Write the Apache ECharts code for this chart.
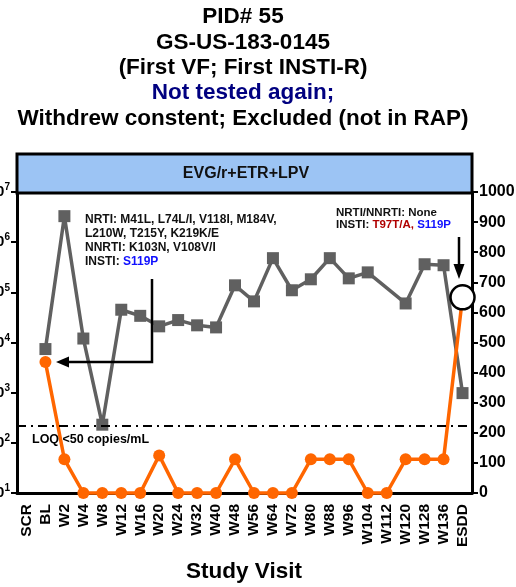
<!DOCTYPE html>
<html>
<head>
<meta charset="utf-8">
<script src="https://cdn.jsdelivr.net/npm/echarts@6/dist/echarts.min.js"></script>
<style>
html,body{margin:0;padding:0;background:#fff;}
#chart{width:516px;height:587px;}
</style>
</head>
<body>
<div id="chart"></div>
<script>
// ---- data ----
var visits = ['SCR','BL','W2','W4','W8','W12','W16','W20','W24','W32','W40','W48','W56','W64','W72','W80','W88','W96','W104','W112','W120','W128','W136','ESDD'];
// HIV-1 RNA (copies/mL), log axis
var viralLoad = [null,7400,3300000,12000,230,45000,34000,21000,28000,22000,20000,138000,66000,480000,110000,182000,480000,190000,250000,null,60000,363000,347000,980];
// CD4 count (cells/uL), right axis
var cd4 = [null,435,112,0,0,0,0,125,0,0,0,112,0,0,0,112,112,112,0,0,112,112,112,650];
var rightTicks = [0,100,200,300,400,500,600,700,800,900,1000];
var loqValue = 220;

var FONT = "'Liberation Sans', Arial, sans-serif";

var chart = echarts.init(document.getElementById('chart'));

var cd4Data = cd4.map(function(v, i){
  if (i === cd4.length - 1) {
    return {value: v, symbolSize: 24, itemStyle: {color: '#fff', borderColor: '#000', borderWidth: 2.5}};
  }
  return v;
});

function txt(x, y, text, size, color, weight, align){
  return {type:'text', x:x, y:y, z:50, style:{text:text, fill:color||'#000', font:(weight||'bold')+' '+size+'px '+FONT, textAlign:align||'center', textVerticalAlign:'middle'}};
}

var graphics = [
  txt(243, 17, 'PID# 55', 22.5),
  txt(243, 43, 'GS-US-183-0145', 22.5),
  txt(243, 68, '(First VF; First INSTI-R)', 22.5),
  txt(243, 93, 'Not tested again;', 22.5, '#000080'),
  txt(243, 119, 'Withdrew constent; Excluded (not in RAP)', 22.5),
  {type:'rect', z:40, shape:{x:17, y:154, width:455, height:39}, style:{fill:'#9cc4f4', stroke:'#000', lineWidth:3}},
  txt(246, 174, 'EVG/r+ETR+LPV', 16, '#111', 'bold'),
  {type:'text', x:85, y:213, z:50, style:{rich:{a:{font:'bold 12px '+FONT, fill:'#111', lineHeight:14}, b:{font:'bold 12px '+FONT, fill:'#1010ff', lineHeight:14}},
    text:'{a|NRTI: M41L, L74L/I, V118I, M184V,}\n{a|L210W, T215Y, K219K/E}\n{a|NNRTI: K103N, V108V/I}\n{a|INSTI: }{b|S119P}'}},
  {type:'text', x:336, y:207, z:50, style:{rich:{a:{font:'bold 11.5px '+FONT, fill:'#111', lineHeight:12}, r:{font:'bold 11.5px '+FONT, fill:'#b00000', lineHeight:12}, b:{font:'bold 11.5px '+FONT, fill:'#1010ff', lineHeight:12}},
    text:'{a|NRTI/NNRTI: None}\n{a|INSTI: }{r|T97T/A, }{b|S119P}'}},
  txt(32, 440, 'LOQ <50 copies/mL', 12.5, '#000', 'bold', 'left'),
  // L-shaped arrow
  {type:'polyline', z:45, shape:{points:[[152,279],[152,362],[66,362]]}, style:{stroke:'#000', lineWidth:2.5, fill:null}},
  {type:'polygon', z:45, shape:{points:[[56,362],[69,356.5],[69,367.5]]}, style:{fill:'#000'}},
  // down arrow
  {type:'line', z:45, shape:{x1:459, y1:237, x2:459, y2:266}, style:{stroke:'#000', lineWidth:2.5}},
  {type:'polygon', z:45, shape:{points:[[459,279],[453.5,264],[464.5,264]]}, style:{fill:'#000'}},
  txt(244, 572, 'Study Visit', 22.5)
];

var option = {
  animation: false,
  backgroundColor: '#fff',
  textStyle: {fontFamily: FONT},
  grid: {left: 17, right: 44, top: 192, bottom: 94, containLabel: false, outerBoundsMode: 'none'},
  xAxis: {
    type: 'category', data: visits, boundaryGap: true,
    axisLine: {lineStyle: {color: '#000', width: 3}},
    axisTick: {alignWithLabel: true, length: 6, lineStyle: {color: '#000', width: 2}},
    axisLabel: {rotate: 90, interval: 0, margin: 11, color: '#000', fontWeight: 'bold', fontSize: 15.5, fontFamily: FONT},
    splitLine: {show: false}
  },
  yAxis: [
    {
      type: 'log', logBase: 10, min: 10, max: 10000000, position: 'left',
      axisLine: {show: true, lineStyle: {color: '#000', width: 3}},
      axisTick: {show: true, length: 6, lineStyle: {color: '#000', width: 2}},
      minorTick: {show: false},
      splitLine: {show: false},
      axisLabel: {
        margin: 7, color: '#000', fontWeight: 'bold', fontFamily: FONT,
        formatter: function(v){ var e = Math.round(Math.log10(v)); return '{b|10}{s|' + e + '}'; },
        rich: {
          b: {fontSize: 15, fontWeight: 'bold', fontFamily: FONT, color: '#000'},
          s: {fontSize: 10, fontWeight: 'bold', fontFamily: FONT, color: '#000', padding: [0, 0, 9, 0]}
        }
      }
    },
    {
      type: 'value', min: 0, max: 1000, interval: 100, position: 'right',
      axisLine: {show: true, lineStyle: {color: '#000', width: 3}},
      axisTick: {show: true, length: 6, lineStyle: {color: '#000', width: 2}},
      splitLine: {show: false},
      axisLabel: {margin: 7, color: '#000', fontWeight: 'bold', fontSize: 16, fontFamily: FONT,
        formatter: function(v){ return String(v); }}
    }
  ],
  series: [
    {
      name: 'HIV-1 RNA', type: 'line', yAxisIndex: 0, data: viralLoad, connectNulls: true, clip: false,
      symbol: 'rect', symbolSize: 12, z: 3,
      lineStyle: {color: '#606060', width: 3.5},
      itemStyle: {color: '#606060'},
      markLine: {
        silent: true, symbol: 'none', label: {show: false},
        lineStyle: {color: '#000', width: 2, type: [9, 5, 2, 5]},
        data: [{yAxis: loqValue}]
      }
    },
    {
      name: 'CD4', type: 'line', yAxisIndex: 1, data: cd4Data, clip: false,
      symbol: 'circle', symbolSize: 12, z: 4,
      lineStyle: {color: '#ff6600', width: 3.5},
      itemStyle: {color: '#ff6600'}
    }
  ],
  graphic: graphics
};
chart.setOption(option);
</script>
</body>
</html>
